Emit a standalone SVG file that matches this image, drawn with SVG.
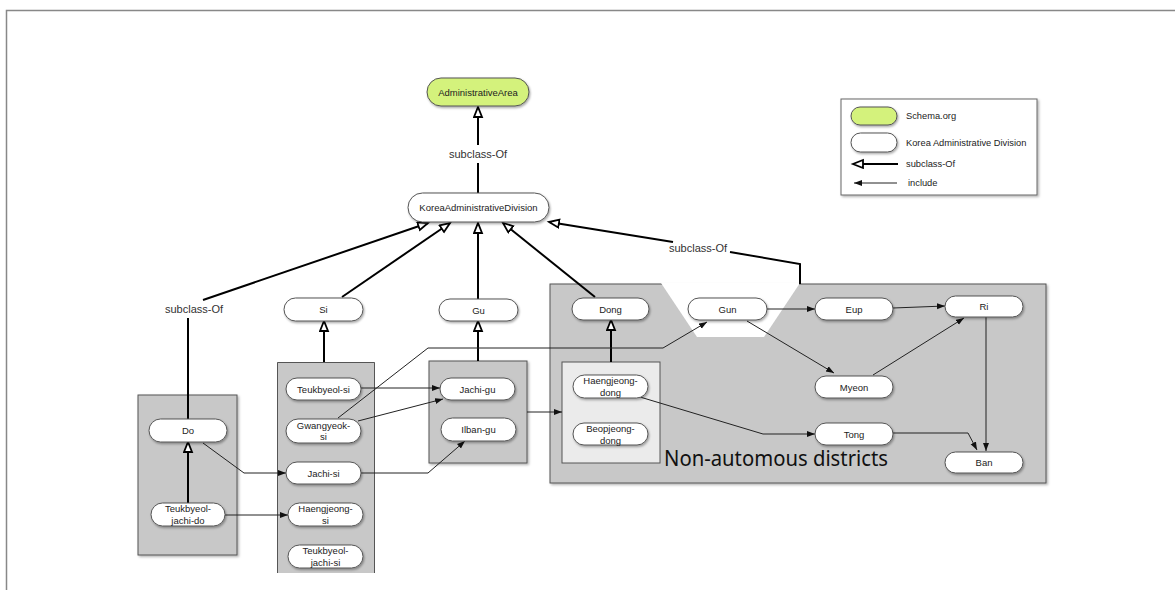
<svg xmlns="http://www.w3.org/2000/svg" width="1175" height="591" viewBox="0 0 1175 591">
<style>
.pill{fill:#fff;stroke:#555;stroke-width:1;filter:url(#sh)}
.green{fill:#d4f27c}
.grp{fill:#c8c8c8;stroke:#555;stroke-width:1}
.inner{fill:#ebebeb;stroke:#555;stroke-width:1}
.t{font-family:"Liberation Sans",Arial,sans-serif;font-size:9.5px;fill:#222;text-anchor:middle;dominant-baseline:central}
.lbl{font-family:"Liberation Sans",Arial,sans-serif;font-size:11px;fill:#333;text-anchor:middle;dominant-baseline:central}
.lg{font-family:"Liberation Sans",Arial,sans-serif;font-size:9.3px;fill:#222;dominant-baseline:central}
.sub{fill:none;stroke:#000;stroke-width:2}
.subm{marker-end:url(#hollow)}
.inc{fill:none;stroke:#222;stroke-width:1;marker-end:url(#solid)}
</style>
<defs>
<filter id="sh" x="-10%" y="-20%" width="130%" height="160%">
<feDropShadow dx="1" dy="1.5" stdDeviation="0.8" flood-color="#000" flood-opacity="0.35"/>
</filter>
<filter id="gsh" x="-5%" y="-5%" width="115%" height="115%">
<feDropShadow dx="1.5" dy="1.5" stdDeviation="1" flood-color="#000" flood-opacity="0.3"/>
</filter>
<marker id="hollow" markerUnits="userSpaceOnUse" markerWidth="14" markerHeight="12" refX="11" refY="5" orient="auto" viewBox="0 0 14 12">
<path d="M1,1 L11,5 L1,9 Z" fill="#fff" stroke="#000" stroke-width="1.8"/>
</marker>
<marker id="solid" markerUnits="userSpaceOnUse" markerWidth="9" markerHeight="8" refX="8" refY="3.5" orient="auto" viewBox="0 0 9 8">
<path d="M0,0.5 L8,3.5 L0,6.5 Z" fill="#111"/>
</marker>
</defs>
<rect width="1175" height="591" fill="#fff"/>
<path d="M6.5,590 L6.5,10.5 L1175,10.5" fill="none" stroke="#888" stroke-width="1.5"/>

<g id="group-do"><rect class="grp" x="138" y="395" width="99" height="160" filter="url(#gsh)"/></g>
<g id="group-si">
<rect x="277" y="362" width="98" height="211" fill="#c8c8c8"/>
<path d="M277.5,573 L277.5,362.5 L374.5,362.5 L374.5,573" fill="none" stroke="#555"/>
</g>
<g id="group-gu"><rect class="grp" x="429" y="361" width="98" height="102" filter="url(#gsh)"/></g>
<g id="group-nonauto">
<rect class="grp" x="550" y="284" width="496" height="199" filter="url(#gsh)"/>
<polygon points="661,283 697,337 764,337 800,283" fill="#fff"/>
<text x="776" y="466" font-family="'Noto Sans','Open Sans',sans-serif" font-size="21" fill="#111" text-anchor="middle" textLength="224" lengthAdjust="spacingAndGlyphs">Non-automous districts</text>
</g>
<g id="group-dong"><rect class="inner" x="562" y="362" width="98" height="101"/></g>

<g id="connectors">
<path class="sub" d="M478,193 L478,163"/>
<path class="sub subm" d="M478,145 L478,107"/>
<text class="lbl" x="478" y="154">subclass-Of</text>
<path class="sub" d="M188,419 L188,318"/>
<text class="lbl" x="194" y="309">subclass-Of</text>
<path class="sub subm" d="M203,300 L428,223"/>
<path class="sub subm" d="M342,297 L450,223"/>
<path class="sub subm" d="M478,299 L478,223"/>
<path class="sub subm" d="M595,297 L503,223"/>
<path class="sub" d="M800,284 L800,264 L730,252"/>
<text class="lbl" x="698" y="248">subclass-Of</text>
<path class="sub subm" d="M673,242 L549,222"/>
<path class="sub subm" d="M188,503 L188,442"/>
<path class="sub subm" d="M324,362 L324,321"/>
<path class="sub subm" d="M478,361 L478,321"/>
<path class="sub subm" d="M611,362 L611,320"/>

<path class="inc" d="M203,443 L244,473 L286,473"/>
<path class="inc" d="M225,515 L288,515"/>
<path class="inc" d="M361,388 L440,388"/>
<path class="inc" d="M358,421 L443,399"/>
<path class="inc" d="M338,418 L428,348 L663,348 L707,322"/>
<path class="inc" d="M361,473 L428,473 L465,441"/>
<path class="inc" d="M527,412 L562,412"/>
<path class="inc" d="M767,309 L815,309"/>
<path class="inc" d="M893,308 L945,306"/>
<path class="inc" d="M747,321 L834,373"/>
<path class="inc" d="M873,375 L964,318"/>
<path class="inc" d="M640,397 L763,434 L815,434"/>
<path class="inc" d="M893,433 L968,433 L977,450"/>
<path class="inc" d="M986,317 L986,451"/>
</g>

<g id="AdministrativeArea"><rect class="pill green" x="427" y="78" width="102" height="28" rx="14"/><text class="t" x="478" y="92">AdministrativeArea</text></g>
<g id="KoreaAdministrativeDivision"><rect class="pill" x="408" y="193" width="141" height="29" rx="14.5"/><text class="t" x="478.5" y="207.5">KoreaAdministrativeDivision</text></g>
<g id="Si"><rect class="pill" x="284" y="298" width="79" height="23" rx="11.5"/><text class="t" x="323.5" y="309.5">Si</text></g>
<g id="Gu"><rect class="pill" x="439" y="299" width="79" height="22" rx="11"/><text class="t" x="478.5" y="310">Gu</text></g>
<g id="Dong"><rect class="pill" x="572" y="298" width="77" height="22" rx="11"/><text class="t" x="610.5" y="309">Dong</text></g>
<g id="Gun"><rect class="pill" x="688" y="298" width="79" height="22" rx="11"/><text class="t" x="727.5" y="309">Gun</text></g>
<g id="Eup"><rect class="pill" x="815" y="298" width="78" height="22" rx="11"/><text class="t" x="854" y="309">Eup</text></g>
<g id="Ri"><rect class="pill" x="945" y="296" width="78" height="21" rx="10.5"/><text class="t" x="984" y="306.5">Ri</text></g>
<g id="Myeon"><rect class="pill" x="815" y="376" width="78" height="22" rx="11"/><text class="t" x="854" y="387">Myeon</text></g>
<g id="Tong"><rect class="pill" x="815" y="423" width="78" height="22" rx="11"/><text class="t" x="854" y="434">Tong</text></g>
<g id="Ban"><rect class="pill" x="945" y="452" width="78" height="21" rx="10.5"/><text class="t" x="984" y="462.5">Ban</text></g>
<g id="Do"><rect class="pill" x="149" y="419" width="78" height="23" rx="11.5"/><text class="t" x="188" y="430.5">Do</text></g>
<g id="Teukbyeol-jachi-do"><rect class="pill" x="151" y="503" width="74" height="23" rx="11.5"/><text class="t" x="188" y="508.5">Teukbyeol-</text><text class="t" x="188" y="520">jachi-do</text></g>
<g id="Teukbyeol-si"><rect class="pill" x="286" y="378" width="75" height="22" rx="11"/><text class="t" x="323.5" y="389">Teukbyeol-si</text></g>
<g id="Gwangyeok-si"><rect class="pill" x="286" y="419" width="75" height="24" rx="12"/><text class="t" x="323.5" y="425">Gwangyeok-</text><text class="t" x="323.5" y="436.5">si</text></g>
<g id="Jachi-si"><rect class="pill" x="286" y="462" width="75" height="22" rx="11"/><text class="t" x="323.5" y="473">Jachi-si</text></g>
<g id="Haengjeong-si"><rect class="pill" x="288" y="503" width="75" height="23" rx="11.5"/><text class="t" x="325.5" y="508.5">Haengjeong-</text><text class="t" x="325.5" y="520">si</text></g>
<g id="Teukbyeol-jachi-si"><rect class="pill" x="288" y="545" width="75" height="23" rx="11.5"/><text class="t" x="325.5" y="550.5">Teukbyeol-</text><text class="t" x="325.5" y="562">jachi-si</text></g>
<g id="Jachi-gu"><rect class="pill" x="440" y="378" width="75" height="22" rx="11"/><text class="t" x="477.5" y="389">Jachi-gu</text></g>
<g id="Ilban-gu"><rect class="pill" x="441" y="418" width="75" height="23" rx="11.5"/><text class="t" x="478.5" y="429.5">Ilban-gu</text></g>
<g id="Haengjeong-dong"><rect class="pill" x="573" y="375" width="75" height="23" rx="11.5"/><text class="t" x="610.5" y="380.5">Haengjeong-</text><text class="t" x="610.5" y="392">dong</text></g>
<g id="Beopjeong-dong"><rect class="pill" x="573" y="423" width="75" height="22" rx="11"/><text class="t" x="610.5" y="428.5">Beopjeong-</text><text class="t" x="610.5" y="440">dong</text></g>

<g id="legend">
<rect x="841" y="99" width="196" height="96" fill="#fff" stroke="#666" filter="url(#gsh)"/>
<rect class="pill green" x="851" y="107" width="46" height="18" rx="9"/>
<text class="lg" x="906" y="116">Schema.org</text>
<rect class="pill" x="851" y="133" width="46" height="19" rx="9.5"/>
<text class="lg" x="906" y="142.5">Korea Administrative Division</text>
<path class="sub subm" d="M898,164 L853,164"/>
<text class="lg" x="906" y="164">subclass-Of</text>
<path class="inc" d="M897,183 L854,183"/>
<text class="lg" x="908" y="183">include</text>
</g>
</svg>
